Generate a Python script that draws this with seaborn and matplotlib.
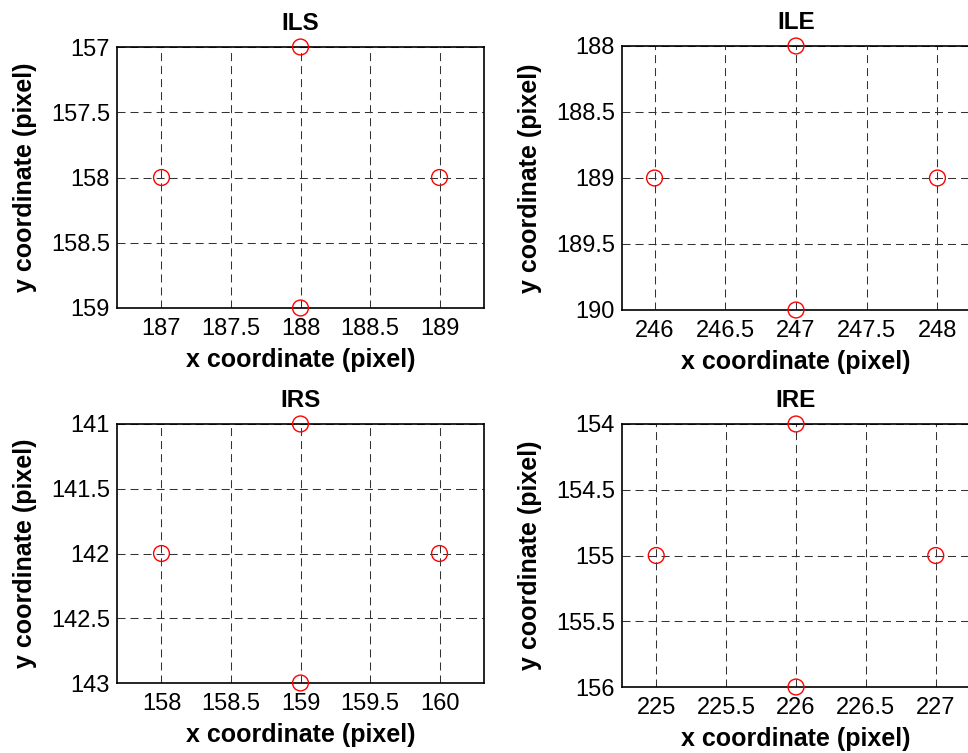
import numpy as np
import pandas as pd
import matplotlib
matplotlib.use("Agg")
import matplotlib.pyplot as plt
import seaborn as sns

sns.set_style("white")
plt.rcParams["font.family"] = ["Liberation Sans", "DejaVu Sans"]
plt.rcParams["text.color"] = "black"
plt.rcParams["axes.labelcolor"] = "black"

# === datos: cuatro puntos por panel (x, y en pixel) ===
titles = ["ILS", "ILE", "IRS", "IRE"]
x_ils = [188, 187, 189, 188]
y_ils = [157, 158, 158, 159]
x_ile = [247, 246, 248, 247]
y_ile = [188, 189, 189, 190]
x_irs = [159, 158, 160, 159]
y_irs = [141, 142, 142, 143]
x_ire = [226, 225, 227, 226]
y_ire = [154, 155, 155, 156]
x_centers = [188, 247, 159, 226]
y_tops = [157, 188, 141, 154]

xs = [x_ils, x_ile, x_irs, x_ire]
ys = [y_ils, y_ile, y_irs, y_ire]

W, H = 968, 753
fig = plt.figure(figsize=(W / 100, H / 100), dpi=100)

# posiciones de los ejes en pixeles: (izq, der, arriba, abajo)
boxes = [(117, 484, 47, 308), (622, 970, 46, 310),
         (117, 484, 424, 683), (622, 970, 424, 687)]
xpads = [1.32, 1.23, 1.32, 1.245]

for i in range(4):
    l, r, t, b = boxes[i]
    ax = fig.add_axes([l / W, (H - b) / H, (r - l) / W, (b - t) / H])
    df = pd.DataFrame({"x": xs[i], "y": ys[i]})
    sns.scatterplot(data=df, x="x", y="y", ax=ax, marker="o", s=130,
                    facecolor="none", edgecolor="red", linewidth=1.0,
                    clip_on=False, zorder=5)
    xc, yt = x_centers[i], y_tops[i]
    ax.set_xlim(xc - xpads[i], xc + xpads[i])
    ax.set_ylim(yt + 2, yt)
    xt = np.arange(xc - 1, xc + 1.01, 0.5)
    yt_ = np.arange(yt, yt + 2.01, 0.5)
    ax.set_xticks(xt)
    ax.set_xticklabels([f"{v:g}" for v in xt])
    ax.set_yticks(yt_)
    ax.set_yticklabels([f"{v:g}" for v in yt_])
    ax.grid(True, color="#333333", linestyle=(0, (7.7, 4.8)), linewidth=0.75)
    ax.tick_params(axis="both", direction="in", length=4, width=0.8,
                   labelsize=17, colors="black")
    ax.tick_params(axis="y", pad=5)
    ax.tick_params(axis="x", pad=7)
    for s in ax.spines.values():
        s.set_color("black")
        s.set_linewidth(1.2)
    ax.set_title(titles[i], fontsize=17.5, fontweight="bold", pad=12)
    ax.set_xlabel("x coordinate (pixel)", fontsize=18, fontweight="bold", labelpad=6)
    ax.set_ylabel("y coordinate (pixel)", fontsize=18, fontweight="bold", labelpad=10)

fig.savefig("out.png", dpi=100)
